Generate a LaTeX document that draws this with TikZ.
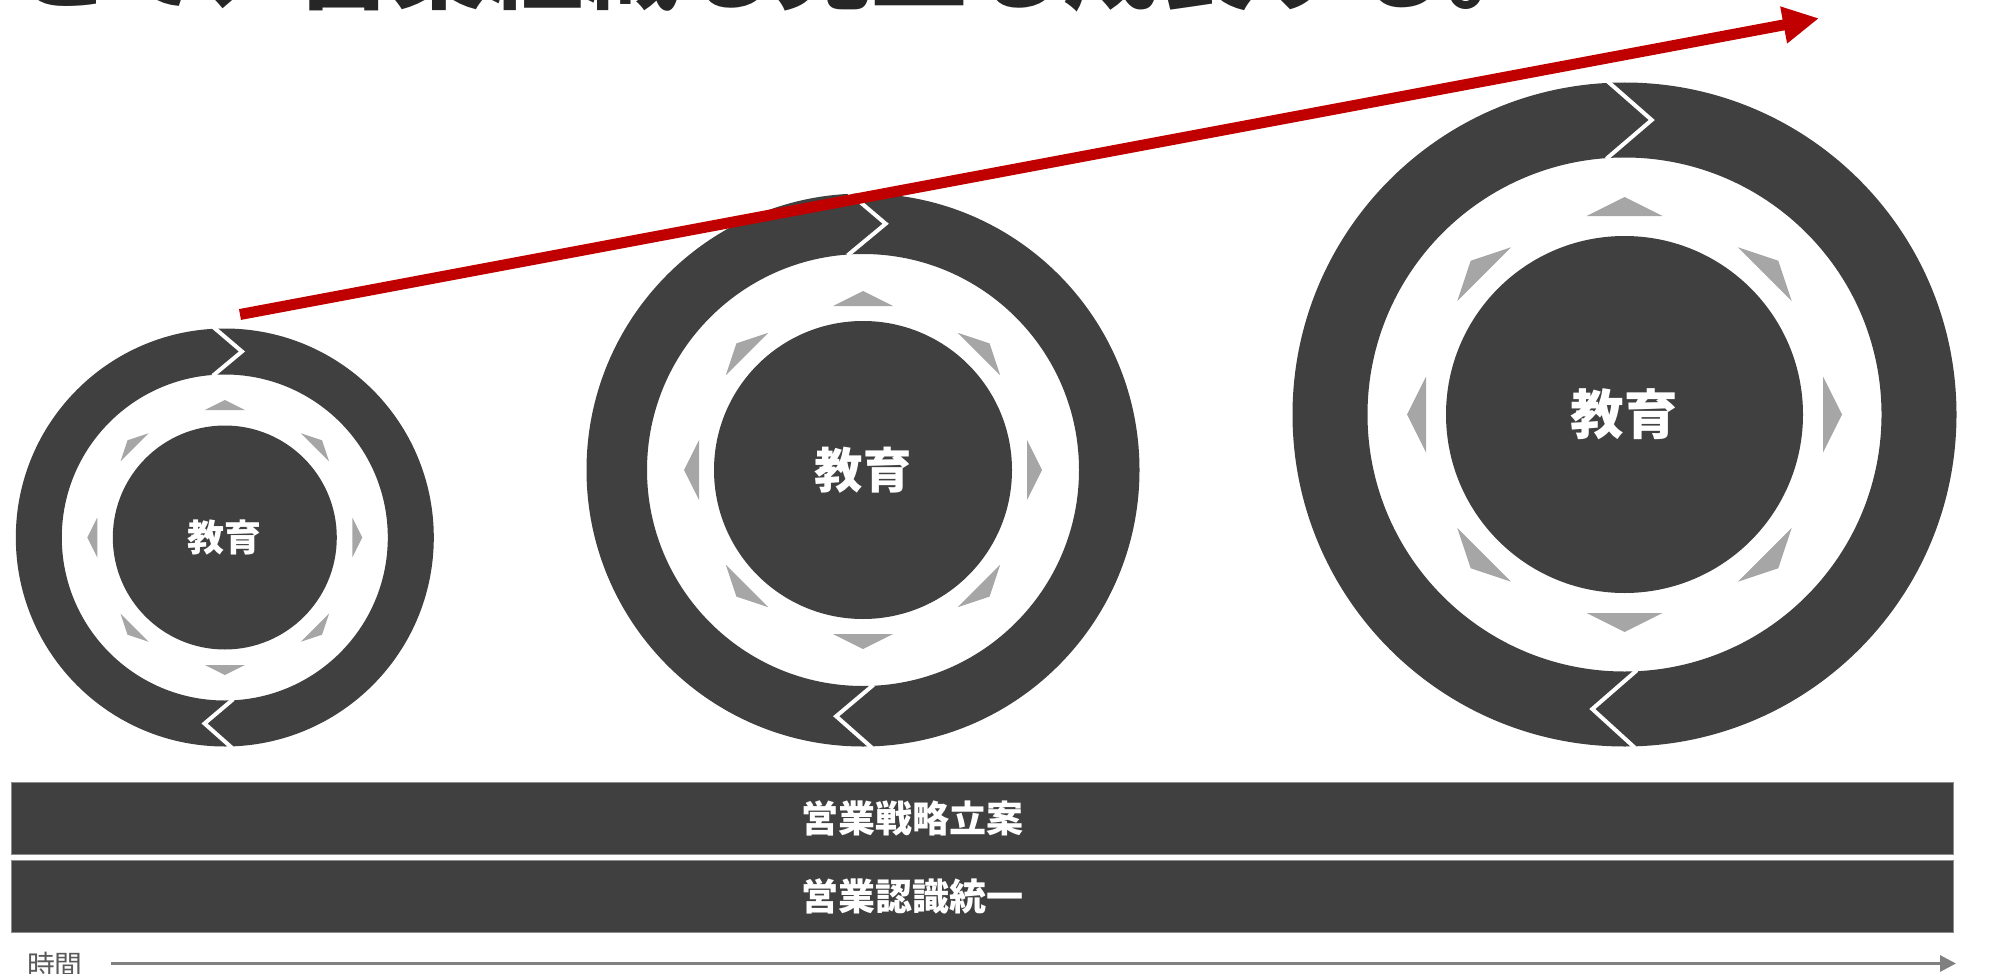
\documentclass[tikz,border=0pt]{standalone}
\usepackage{fontspec}
\newfontfamily\jp{Noto Sans CJK JP}
\usetikzlibrary{arrows.meta}
\definecolor{dark}{HTML}{404040}
\definecolor{tri}{HTML}{A6A6A6}
\definecolor{redc}{HTML}{C00000}
\definecolor{timegray}{HTML}{808080}
\definecolor{timetext}{HTML}{595959}
\definecolor{titlec}{HTML}{262626}
\definecolor{barline}{HTML}{8C8C8C}
\tikzset{
  disk/.style={circle, fill=dark, text=white, inner sep=0pt},
  ringcut/.style={white, line width=2pt, line cap=rect, line join=miter},
  bar/.style={fill=dark, draw=barline, line width=0.5pt, inner sep=0pt, minimum width=971pt, minimum height=36pt},
  bartext/.style={text=white, font=\jp\bfseries\fontsize{18.5pt}{20pt}\selectfont, inner sep=0pt},
  growth/.style={redc, line width=5.5pt, -{Triangle[length=18pt,width=17.5pt]}},
  timeline/.style={timegray, line width=1.5pt, -{Triangle[length=8pt,width=8pt]}}
}
\begin{document}
\begin{tikzpicture}[x=0.5pt,y=-0.5pt]
\useasboundingbox (0,0) rectangle (2003,974);
\clip (0,0) rectangle (2003,974);
% cut-off title
\node[anchor=base west, inner sep=0pt, text=titlec, font=\jp\bfseries\fontsize{48pt}{50pt}\selectfont] (title) at (14,2) {とで、営業組織も売上も成長する。};
% cycles
\foreach \n/\cx/\cy/\R/\ri/\rd/\tb/\ta/\hw/\fs in {
  s/224.8/537.5/209/163/112/127.5/137.5/20/18.5,
  m/863/470/276.5/216/149/164/179/30/24.2,
  l/1624.5/414.5/332/257/178.5/198.5/217.5/38/26.8}{
  \fill[dark, even odd rule] (\cx,\cy) circle[radius=\R] (\cx,\cy) circle[radius=\ri];
  \draw[ringcut] ({\cx-0.047*\R},{\cy-\R}) -- ({\cx+0.082*\R},{\cy-0.5*\R-0.5*\ri}) -- ({\cx-0.05*\R},{\cy-\ri});
  \draw[ringcut] ({\cx+0.033*\R},{\cy+\ri}) -- ({\cx-0.097*\R},{\cy+0.5*\R+0.5*\ri}) -- ({\cx+0.027*\R},{\cy+\R});
  \foreach \a in {0,45,...,315}{
    \fill[tri, shift={(\cx,\cy)}, rotate=\a] (\tb,-\hw) -- (\ta,0) -- (\tb,\hw) -- cycle;
  }
  \node[disk, minimum size=\rd pt, font=\jp\bfseries\fontsize{\fs pt}{\fs pt}\selectfont] (disk-\n) at (\cx,\cy) {教育};
}
% growth arrow
\coordinate (gs) at (240,314.5);
\coordinate (ge) at (1819,18.3);
\draw[growth] (gs) -- (ge);
% bars
\node[bar] (bar1) at (982,818) {};
\node[bar] (bar2) at (982,896) {};
\node[bartext] (bar1t) at (912,818) {営業戦略立案};
\node[bartext] (bar2t) at (912,896) {営業認識統一};
% time axis
\node[text=timetext, font=\jp\fontsize{13.9pt}{15pt}\selectfont, inner sep=0pt] (time) at (55,965) {時間};
\coordinate (t0) at (111,963.5);
\coordinate (t1) at (1956,963.5);
\draw[timeline] (t0) -- (t1);
\end{tikzpicture}
\end{document}
